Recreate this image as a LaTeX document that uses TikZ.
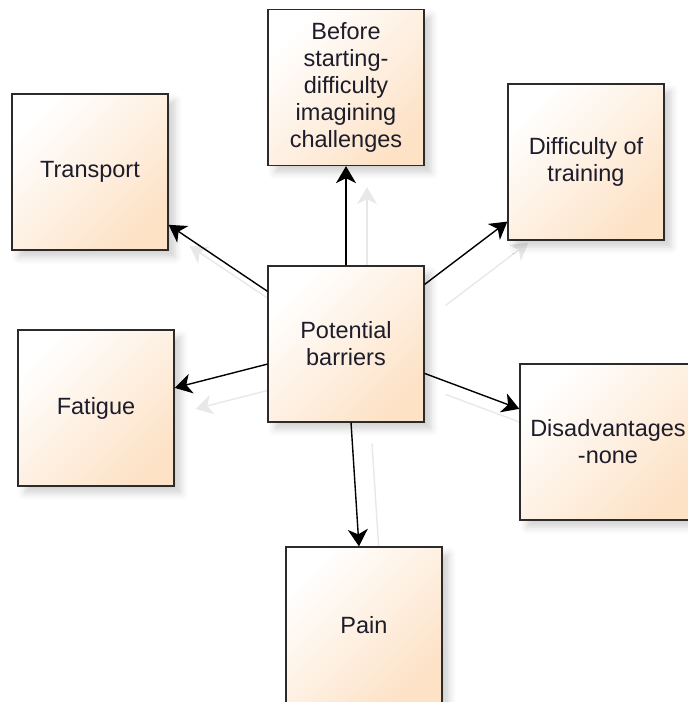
\documentclass[tikz,border=0pt]{standalone}
\usepackage{fontspec}
\setmainfont{Liberation Sans}
\usetikzlibrary{arrows.meta,shadows.blur,backgrounds}

\definecolor{edgeK}{HTML}{2B2B2B}
\definecolor{peach}{HTML}{FDE2C6}
\definecolor{txtK}{HTML}{1C1C2A}
\definecolor{shadeG}{HTML}{E8E8E8}

\begin{document}
\begin{tikzpicture}[x=1pt, y=1pt,
    barrier/.style={draw=edgeK, line width=1.3pt, top color=white, bottom color=peach, shading angle=45,
      minimum width=156pt, minimum height=156pt, inner sep=0pt, align=center, text=txtK,
      font=\fontsize{23.5}{27}\selectfont,
      blur shadow={shadow xshift=7pt, shadow yshift=-7pt, shadow blur radius=7pt, shadow opacity=18}},
    link/.style={-{Stealth[length=17pt, width=20pt, inset=5pt]}, line width=1.4pt, black},
    linkshadow/.style={link, draw=shadeG, fill=shadeG, transform canvas={shift={(21pt,-21pt)}}}]
    \useasboundingbox (0,0) rectangle (688,702);

    % boxes
    \node[barrier] (barriers) at (346,358) {Potential\\barriers};
    \node[barrier] (before) at (346,614.5) {Before\\starting-\\difficulty\\imagining\\challenges};
    \node[barrier] (transport) at (90,530) {Transport};
    \node[barrier] (training) at (586,540) {Difficulty of\\training};
    \node[barrier] (fatigue) at (96,294) {Fatigue};
    \node[barrier, minimum width=176pt] (disadv) at (608,260) {Disadvantages\\-none};
    \node[barrier] (pain) at (364,77) {Pain};

    % faint copies of the arrows, behind the boxes
    \begin{scope}[on background layer]
      \foreach \target in {before,transport,training,fatigue,disadv,pain}
        \draw[linkshadow] (barriers) -- (\target);
    \end{scope}

    % arrows
    \foreach \target in {before,transport,training,fatigue,disadv,pain}
      \draw[link] (barriers) -- (\target);
  \end{tikzpicture}
\end{document}
